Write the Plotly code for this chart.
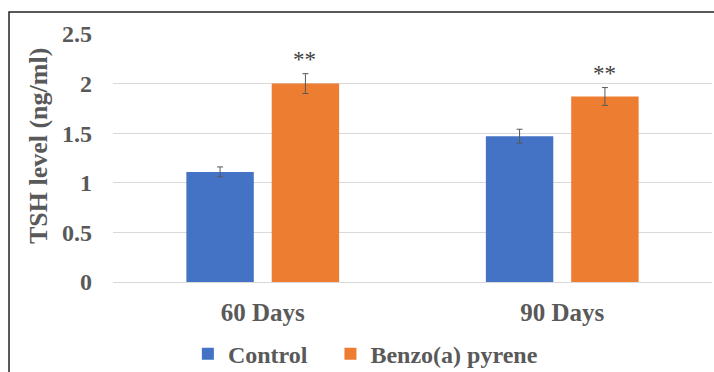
import plotly.graph_objects as go

categories = ["60 Days", "90 Days"]
control_vals = [1.11, 1.47]
control_err = [0.05, 0.07]
bap_vals = [2.00, 1.87]
bap_err = [0.10, 0.09]
signif = ["**", "**"]
y_ticks = [0, 0.5, 1, 1.5, 2, 2.5]
y_ticklabels = ["0", "0.5", "1", "1.5", "2", "2.5"]
series_names = ["Control", "Benzo(a) pyrene"]
y_title = "TSH level (ng/ml)"

FONT = "Liberation Serif"
GRAY = "#595959"

fig = go.Figure()
fig.add_trace(go.Bar(
    name=series_names[0] + "\u00a0\u00a0\u00a0", x=categories, y=control_vals,
    marker=dict(color="#4472C4", line=dict(width=0)),
    error_y=dict(type="data", array=control_err, color="#595959", thickness=1, width=3),
))
fig.add_trace(go.Bar(
    name=series_names[1], x=categories, y=bap_vals,
    marker=dict(color="#ED7D31", line=dict(width=0)),
    error_y=dict(type="data", array=bap_err, color="#595959", thickness=1, width=3),
))

for cat, v, e, s in zip(categories, bap_vals, bap_err, signif):
    fig.add_annotation(x=cat, y=v + e, xref="x", yref="y", text=s, showarrow=False,
                       xshift=42, yanchor="bottom", yshift=0,
                       font=dict(family=FONT, size=23, color="#404040"))

# y-axis title (placed slightly above the plot centre, as in the reference)
fig.add_annotation(text=y_title, textangle=-90, xref="paper", yref="paper",
                   x=-0.1252, y=0.548, xanchor="center", yanchor="middle", showarrow=False,
                   font=dict(family=FONT, size=26, color=GRAY, weight="bold"))

fig.add_shape(type="rect", xref="paper", yref="paper",
              x0=-0.1736, x1=1.2, y0=-0.6, y1=1.0887,
              line=dict(color="#222222", width=1.5), fillcolor="rgba(0,0,0,0)", layer="above")

fig.update_layout(
    width=714, height=372,
    margin=dict(l=113, r=2, t=34, b=90, autoexpand=False),
    paper_bgcolor="white", plot_bgcolor="white",
    barmode="group", bargap=0.43, bargroupgap=0.21,
    showlegend=True,
    legend=dict(orientation="h", x=0.125, xanchor="left", y=-0.2, yanchor="top",
                font=dict(family=FONT, size=24, color=GRAY, weight="bold"),
                itemclick=False, tracegroupgap=0),
    xaxis=dict(showgrid=False, showline=False, ticks="", automargin=False,
               tickfont=dict(family=FONT, size=25, color=GRAY, weight="bold"),
               ticklabelstandoff=13),
    yaxis=dict(range=[0, 2.5], tickvals=y_ticks, ticktext=y_ticklabels, automargin=False,
               showgrid=True, gridcolor="#D9D9D9", gridwidth=1,
               zeroline=True, zerolinecolor="#D9D9D9", zerolinewidth=1,
               showline=False, ticks="",
               tickfont=dict(family=FONT, size=24, color=GRAY, weight="bold"),
               ticklabelstandoff=20),
)

fig.write_html("out.html", config={"displayModeBar": False},
               post_script="document.body.style.margin='0px';")
